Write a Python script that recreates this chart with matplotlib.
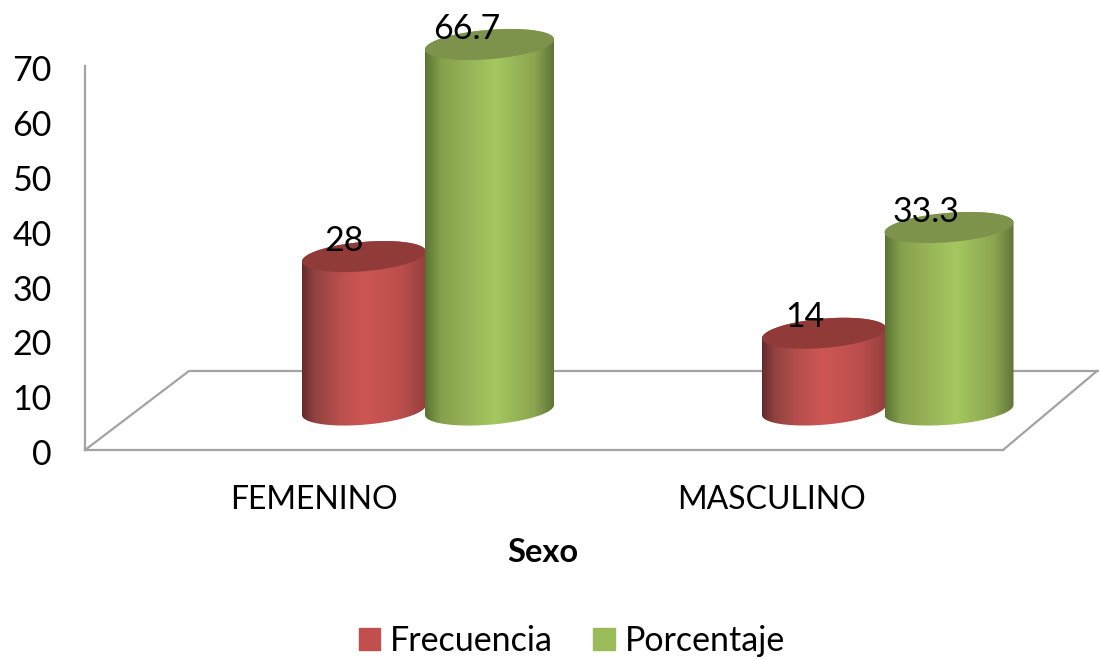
import numpy as np
import matplotlib
matplotlib.use("Agg")
import matplotlib.pyplot as plt
from matplotlib.colors import LinearSegmentedColormap
from matplotlib.patches import Patch, PathPatch
from matplotlib.path import Path
from matplotlib.transforms import ScaledTranslation

categories = ["FEMENINO", "MASCULINO"]
series_names = ["Frecuencia", "Porcentaje"]
frecuencia = [28, 14]
porcentaje = [66.7, 33.3]
yticks = [0, 10, 20, 30, 40, 50, 60, 70]

plt.rcParams["font.family"] = ["Lato", "DejaVu Sans"]
FS = 24.5
W, H = 1099, 659
fig = plt.figure(figsize=(W / 100, H / 100), dpi=100, facecolor="white")
ax = fig.add_axes([85 / W, (H - 450) / H, (W - 85) / W, 450 / H])
PX = 5.48  # pixels per value unit
ax.set_xlim(85, W)
ax.set_ylim(0, 450 / PX)
ax.patch.set_alpha(0)

GRID = "#a3a3a3"
for s in ("top", "right"):
    ax.spines[s].set_visible(False)
for s in ("left", "bottom"):
    ax.spines[s].set_color(GRID)
    ax.spines[s].set_linewidth(1.6)
ax.spines["left"].set_bounds(0, 70)
ax.spines["bottom"].set_bounds(85, 1003)
ax.set_yticks(yticks)
ax.set_yticklabels([str(v) for v in yticks], fontsize=FS)
label_x = [314, 772]
ax.set_xticks(label_x)
ax.set_xticklabels(categories, fontsize=23)
ax.tick_params(length=0, pad=25, axis="x")
ax.tick_params(length=0, pad=24, axis="y")
shift = ScaledTranslation(0, -2 / 100, fig.dpi_scale_trans)
for lab in ax.get_yticklabels():
    lab.set_transform(lab.get_transform() + shift)
ax.set_xlabel("Sexo", fontsize=23.5, fontweight="bold", va="center")
ax.xaxis.set_label_coords((543 - 85) / (W - 85), -(552 - 450) / 450)

# floor of the 3D plot
floor = (450 - 371) / PX
ax.plot([85, 189, W], [0, floor, floor], color=GRID, lw=1.6, zorder=1, clip_on=False)
ax.plot([1003, W - 2], [0, floor], color=GRID, lw=1.6, zorder=1, clip_on=False)

base_val = (450 - 410) / PX
maps = {
    "r": LinearSegmentedColormap.from_list("r", [(0, "#642a29"), (0.1, "#8f4341"), (0.3, "#b94f4c"), (0.5, "#cd5654"), (0.8, "#bb4e4c"), (1, "#94403e")]),
    "g": LinearSegmentedColormap.from_list("g", [(0, "#5b7333"), (0.12, "#84a04c"), (0.3, "#95b056"), (0.55, "#a4c85f"), (0.85, "#8ca550"), (1, "#5f7538")]),
}
cap = {"r": "#913b39", "g": "#7d934b"}


def ell(cx, y_val, a, t):
    b, k = 14.7, 5.0 / a
    xo = a * np.cos(t)
    return cx + xo, y_val + (b * np.sin(t) + k * xo) / PX


def cylinder(cx, a, value, key, z):
    top = base_val + value
    t1 = np.linspace(np.pi, 2 * np.pi, 60)
    t2 = np.linspace(0, np.pi, 60)
    xa, ya = ell(cx, base_val, a, t1)
    xb, yb = ell(cx, top, a, t2)
    verts = np.column_stack([np.r_[xa, xb], np.r_[ya, yb]])
    grad = np.linspace(0, 1, 256)[None, :]
    im = ax.imshow(grad, cmap=maps[key], aspect="auto", zorder=z,
                   extent=[cx - a, cx + a, base_val - 20 / PX, top + 20 / PX])
    patch = PathPatch(Path(np.r_[verts, verts[:1]]), transform=ax.transData, fc="none", ec="none")
    ax.add_patch(patch)
    im.set_clip_path(patch)
    tx, ty = ell(cx, top, a, np.linspace(0, 2 * np.pi, 120))
    ax.fill(tx, ty, color=cap[key], lw=0, zorder=z + 0.1, clip_on=False)
    return top


red_cx = [364, 824]
green_cx = [489.5, 949]
for i in range(2):
    t = cylinder(red_cx[i], 62, frecuencia[i], "r", 3 + i)
    ax.annotate(f"{frecuencia[i]}", (red_cx[i], t), xytext=(-14, 11.5), textcoords="offset points",
                ha="center", va="center", fontsize=FS, zorder=10, annotation_clip=False)
    t = cylinder(green_cx[i], 64.5, porcentaje[i], "g", 3.5 + i)
    ax.annotate(f"{porcentaje[i]}", (green_cx[i], t), xytext=(-16.5, 11.5), textcoords="offset points",
                ha="center", va="center", fontsize=FS, zorder=10, annotation_clip=False)
ax.set_xlim(85, W)
ax.set_ylim(0, 450 / PX)

fig.legend(handles=[Patch(color="#c0504d", label=series_names[0]), Patch(color="#9bbb59", label=series_names[1])],
           loc="center", bbox_to_anchor=(572 / W, 1 - 641 / H), ncol=2, frameon=False, fontsize=24.5,
           handlelength=0.62, handleheight=0.62, handletextpad=0.3, columnspacing=1.18)
fig.savefig("out.png", dpi=100)
